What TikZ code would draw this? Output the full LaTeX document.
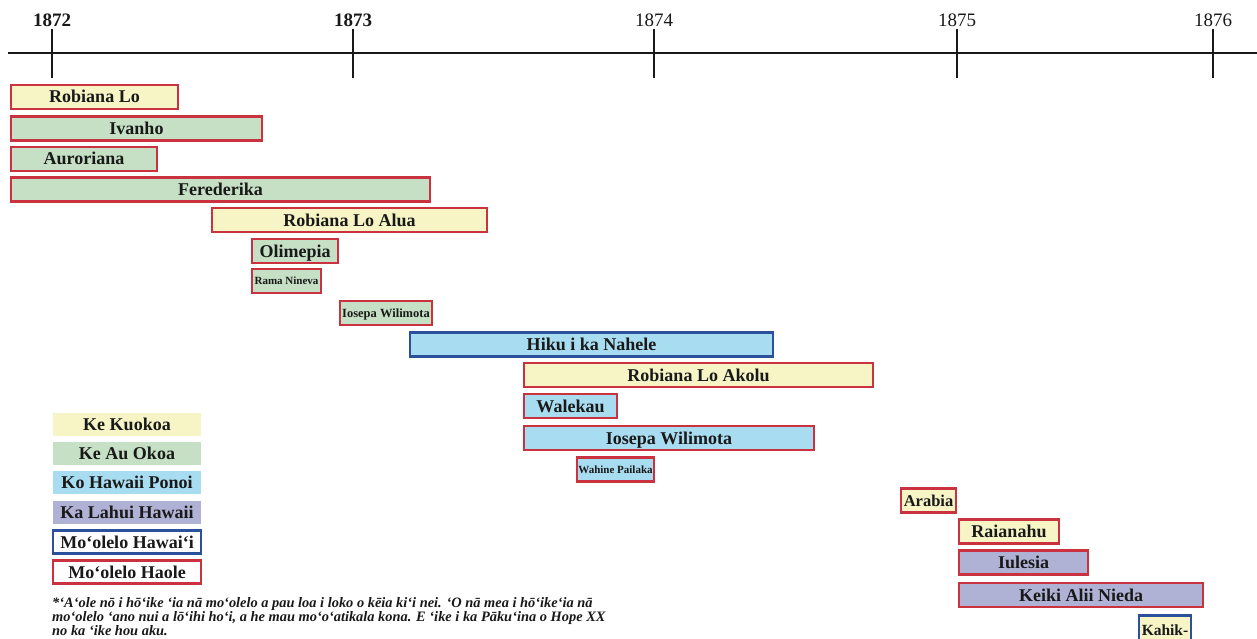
\documentclass[tikz,border=0pt]{standalone}
\usepackage{fontspec}
\setmainfont{Liberation Serif}
\usepackage{tikz}
\usepackage{xcolor}

\definecolor{kuokoa}{HTML}{F7F5C6}
\definecolor{auokoa}{HTML}{C5E0C4}
\definecolor{ponoi}{HTML}{A8DCF0}
\definecolor{lahui}{HTML}{B0B2D5}
\definecolor{haole}{HTML}{C9323E}
\definecolor{hawaii}{HTML}{2B509C}

\begin{document}
\begin{tikzpicture}[x=1pt,y=-1pt]
	\tikzstyle{bar}=[rectangle,draw=haole,line width=2.4pt,inner sep=0pt,minimum height=24pt,text height=12pt,text depth=0pt,text=black!90,font=\fontsize{18}{20}\selectfont\bfseries]
	\tikzstyle{small}=[text height=7.5pt,font=\fontsize{11}{13}\selectfont\bfseries]
	\tikzstyle{key}=[rectangle,line width=2.4pt,inner sep=0pt,minimum width=148pt,minimum height=23pt,text height=12pt,text depth=0pt,text=black!90,font=\fontsize{18}{20}\selectfont\bfseries]
	\tikzstyle{year}=[text height=12.8pt,text depth=0pt,text=black!90,font=\fontsize{19}{21}\selectfont]
	\tikzstyle{tick}=[draw=black!90, line width=2pt]

	\path [fill=white,use as bounding box] (0,0) rectangle (1257,639);

	% time line
	\coordinate (axl) at (8,53);
	\coordinate (axr) at (1257,53);
	\path [tick,line width=2.6pt] (axl) -- (axr);

	\node [year,font=\fontsize{19}{21}\selectfont\bfseries] (y1872) at (52,20.5) {1872};
	\node [year,font=\fontsize{19}{21}\selectfont\bfseries] (y1873) at (353,20.5) {1873};
	\node [year] (y1874) at (654,20.5) {1874};
	\node [year] (y1875) at (957,20.5) {1875};
	\node [year] (y1876) at (1213,20.5) {1876};
	\path [tick] (52,29) -- (52,78);
	\path [tick] (353,29) -- (353,78);
	\path [tick] (654,29) -- (654,78);
	\path [tick] (957,29) -- (957,78);
	\path [tick] (1213,29) -- (1213,78);

	% mo'olelo
	\node [bar,fill=kuokoa,minimum width=167pt] (b1) at (94.5,97) {Robiana Lo};
	\node [bar,fill=auokoa,minimum width=251pt] (b2) at (136.5,128.5) {Ivanho};
	\node [bar,fill=auokoa,minimum width=146pt] (b3) at (84,159) {Auroriana};
	\node [bar,fill=auokoa,minimum width=419pt] (b4) at (220.5,189.5) {Ferederika};
	\node [bar,fill=kuokoa,minimum width=275pt] (b5) at (349.5,220) {Robiana Lo Alua};
	\node [bar,fill=auokoa,minimum width=86pt] (b6) at (295,251) {Olimepia};
	\node [bar,small,fill=auokoa,minimum width=69pt] (b7) at (286.5,281) {Rama Nineva};
	\node [bar,small,fill=auokoa,minimum width=92pt,text height=8.5pt,font=\fontsize{12.5}{14}\selectfont\bfseries] (b8) at (386,313) {Iosepa Wilimota};
	\node [bar,draw=hawaii,fill=ponoi,minimum width=363pt] (b9) at (591.5,344.5) {Hiku i ka Nahele};
	\node [bar,fill=kuokoa,minimum width=349pt] (b10) at (698.5,375) {Robiana Lo Akolu};
	\node [bar,fill=ponoi,minimum width=93pt] (b11) at (570.5,406) {Walekau};
	\node [bar,fill=ponoi,minimum width=290pt] (b12) at (669,438) {Iosepa Wilimota};
	\node [bar,small,fill=ponoi,minimum width=77pt] (b13) at (615.5,469.5) {Wahine Pailaka};
	\node [bar,fill=kuokoa,minimum width=55pt,text height=11pt,font=\fontsize{16.5}{18}\selectfont\bfseries] (b14) at (928.5,500.5) {Arabia};
	\node [bar,fill=kuokoa,minimum width=100pt] (b15) at (1009,531.5) {Raianahu};
	\node [bar,fill=lahui,minimum width=129pt] (b16) at (1023.5,562.5) {Iulesia};
	\node [bar,fill=lahui,minimum width=244pt] (b17) at (1081,595) {Keiki Alii Nieda};
	\node [bar,draw=hawaii,fill=kuokoa,minimum width=52pt,minimum height=29pt,text height=10.5pt,font=\fontsize{15.5}{17}\selectfont\bfseries] (b18) at (1165,630) {Kahik-};

	% key
	\node [key,fill=kuokoa] (k1) at (127,424.5) {Ke Kuokoa};
	\node [key,fill=auokoa] (k2) at (127,453.5) {Ke Au Okoa};
	\node [key,fill=ponoi] (k3) at (127,482.5) {Ko Hawaii Ponoi};
	\node [key,fill=lahui] (k4) at (127,512) {Ka Lahui Hawaii};
	\node [key,draw=hawaii,fill=white] (k5) at (127,542) {Mo‘olelo Hawai‘i};
	\node [key,draw=haole,fill=white] (k6) at (127,572) {Mo‘olelo Haole};

	\node [anchor=north west,inner sep=0pt,align=left,text=black!90,font=\fontsize{14.4}{11.6}\selectfont\bfseries\itshape] (note) at (52,597)
	{*‘A‘ole nō i hō‘ike ‘ia nā mo‘olelo a pau loa i loko o kēia ki‘i nei. ‘O nā mea i hō‘ike‘ia nā\\
	 mo‘olelo ‘ano nui a lō‘ihi ho‘i, a he mau mo‘o‘atikala kona. E ‘ike i ka Pāku‘ina o Hope XX\\
	 no ka ‘ike hou aku.};

\end{tikzpicture}
\end{document}
